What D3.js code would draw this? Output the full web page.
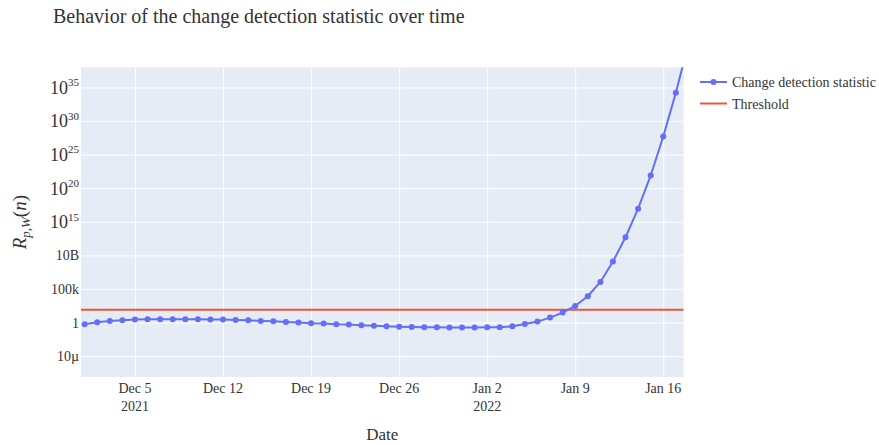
<!DOCTYPE html>
<html>
<head>
<meta charset="utf-8">
<script src="https://cdn.jsdelivr.net/npm/d3@7/dist/d3.min.js"></script>
<style>
  html, body { margin: 0; padding: 0; background: #fff; }
  svg { display: block; }
  text { font-family: "Liberation Serif", "Times New Roman", serif; fill: #333; }
</style>
</head>
<body>
<svg id="chart" width="879" height="445"></svg>
<script>
// ---------------- data ----------------
const dates = [
  "2021-12-01","2021-12-02","2021-12-03","2021-12-04","2021-12-05","2021-12-06","2021-12-07",
  "2021-12-08","2021-12-09","2021-12-10","2021-12-11","2021-12-12","2021-12-13","2021-12-14",
  "2021-12-15","2021-12-16","2021-12-17","2021-12-18","2021-12-19","2021-12-20","2021-12-21",
  "2021-12-22","2021-12-23","2021-12-24","2021-12-25","2021-12-26","2021-12-27","2021-12-28",
  "2021-12-29","2021-12-30","2021-12-31","2022-01-01","2022-01-02","2022-01-03","2022-01-04",
  "2022-01-05","2022-01-06","2022-01-07","2022-01-08","2022-01-09","2022-01-10","2022-01-11",
  "2022-01-12","2022-01-13","2022-01-14","2022-01-15","2022-01-16","2022-01-17","2022-01-18"
];
const statisticValues = [
  0.56, 1.12, 1.78, 2.19, 2.82, 3.09, 3.09,
  3.1, 3.1, 3.05, 3.0, 2.82, 2.5, 2.19,
  1.78, 1.58, 1.26, 1.0, 0.79, 0.71, 0.56,
  0.50, 0.40, 0.35, 0.28, 0.25, 0.22, 0.20,
  0.20, 0.18, 0.18, 0.18, 0.20, 0.20, 0.28,
  0.63, 1.41, 5.5, 31, 300, 8300, 1.1e6,
  1.2e9, 5e12, 9.1e16, 7.9e21, 5e27, 1.6e34, 3.2e41
];
const thresholdValue = 80;

const xTickDates = ["2021-12-05","2021-12-12","2021-12-19","2021-12-26","2022-01-02","2022-01-09","2022-01-16"];
const xTickLabels = [["Dec 5","2021"],["Dec 12"],["Dec 19"],["Dec 26"],["Jan 2","2022"],["Jan 9"],["Jan 16"]];
const yTickValues = [1e-5, 1, 1e5, 1e10, 1e15, 1e20, 1e25, 1e30, 1e35];
const yTickLabels = ["10µ", "1", "100k", "10B", "10^15", "10^20", "10^25", "10^30", "10^35"];
const xRange = ["2021-11-30T17:00:00Z", "2022-01-17T15:00:00Z"];
const yRange = [Math.pow(10, -8.1), 1e38];

const seriesNames = ["Change detection statistic", "Threshold"];
const colors = ["#636EFA", "#EF553B"];

// ---------------- layout ----------------
const svg = d3.select("#chart");
const M = { left: 81, right: 683.7, top: 67.3, bottom: 377 };
const parse = d3.utcParse("%Y-%m-%d");

const x = d3.scaleUtc()
  .domain(xRange.map(d => new Date(d)))
  .range([M.left, M.right]);
const y = d3.scaleLog()
  .domain(yRange)
  .range([M.bottom, M.top]);

// background
svg.append("rect")
  .attr("x", M.left).attr("y", M.top)
  .attr("width", M.right - M.left).attr("height", M.bottom - M.top)
  .attr("fill", "#E5ECF6");

svg.append("defs").append("clipPath").attr("id", "clip")
  .append("rect")
  .attr("x", M.left).attr("y", M.top)
  .attr("width", M.right - M.left).attr("height", M.bottom - M.top);

// grid lines
const xTicks = xTickDates.map(parse);
const xAxis = d3.axisBottom(x).tickValues(xTicks).tickSize(-(M.bottom - M.top)).tickFormat("");
svg.append("g").attr("transform", `translate(0,${M.bottom})`).call(xAxis)
  .call(g => g.select(".domain").remove())
  .call(g => g.selectAll("line").attr("stroke", "#fff").attr("stroke-width", 1));

const yAxis = d3.axisLeft(y).tickValues(yTickValues).tickSize(-(M.right - M.left)).tickFormat("");
svg.append("g").attr("transform", `translate(${M.left},0)`).call(yAxis)
  .call(g => g.select(".domain").remove())
  .call(g => g.selectAll("line").attr("stroke", "#fff").attr("stroke-width", 1));

// x tick labels
const xl = svg.append("g");
xTicks.forEach((d, i) => {
  const t = xl.append("text")
    .attr("x", x(d)).attr("y", 393)
    .attr("text-anchor", "middle")
    .style("font-size", "14px");
  xTickLabels[i].forEach((line, j) => {
    t.append("tspan").attr("x", x(d)).attr("dy", j === 0 ? 0 : 18).text(line);
  });
});

// y tick labels
const yl = svg.append("g");
yTickValues.forEach((v, i) => {
  const lab = yTickLabels[i];
  const yy = y(v);
  if (lab.startsWith("10^")) {
    const t = yl.append("text")
      .attr("x", 79).attr("y", yy + 6.3)
      .attr("text-anchor", "end");
    t.append("tspan").style("font-size", "18px").text("10");
    t.append("tspan").style("font-size", "11px").attr("dy", -7.5).text(lab.slice(3));
  } else {
    yl.append("text")
      .attr("x", 79).attr("y", yy + 5)
      .attr("text-anchor", "end")
      .style("font-size", "14px")
      .text(lab);
  }
});

// threshold line
const plot = svg.append("g").attr("clip-path", "url(#clip)");
plot.append("line")
  .attr("x1", M.left).attr("x2", M.right)
  .attr("y1", y(thresholdValue)).attr("y2", y(thresholdValue))
  .attr("stroke", colors[1]).attr("stroke-width", 2);

// statistic series
const pts = dates.map((d, i) => ({ date: parse(d), value: statisticValues[i] }));
const line = d3.line().x(d => x(d.date)).y(d => y(d.value));
plot.append("path").datum(pts)
  .attr("d", line)
  .attr("fill", "none")
  .attr("stroke", colors[0]).attr("stroke-width", 2);
plot.selectAll("circle.pt").data(pts).join("circle")
  .attr("class", "pt")
  .attr("cx", d => x(d.date)).attr("cy", d => y(d.value))
  .attr("r", 3)
  .attr("fill", colors[0]);

// title
svg.append("text")
  .attr("x", 53).attr("y", 23)
  .style("font-size", "20px")
  .text("Behavior of the change detection statistic over time");

// x axis title
svg.append("text")
  .attr("x", (M.left + M.right) / 2).attr("y", 440)
  .attr("text-anchor", "middle")
  .style("font-size", "17px")
  .text("Date");

// y axis title
const yt = svg.append("text")
  .attr("transform", `translate(26,${(M.top + M.bottom) / 2}) rotate(-90)`)
  .attr("text-anchor", "middle")
  .style("font-size", "19px")
  .style("font-style", "italic");
yt.append("tspan").text("R");
yt.append("tspan").style("font-size", "13px").attr("dy", 4).text("p,W");
yt.append("tspan").attr("dy", -4).style("font-style", "normal").text("(");
yt.append("tspan").text("n");
yt.append("tspan").style("font-style", "normal").text(")");

// legend
const lg = svg.append("g");
seriesNames.forEach((name, i) => {
  const ly = 82 + i * 21.5;
  lg.append("line")
    .attr("x1", 700).attr("x2", 727).attr("y1", ly).attr("y2", ly)
    .attr("stroke", colors[i]).attr("stroke-width", 2);
  if (i === 0) {
    lg.append("circle").attr("cx", 713.5).attr("cy", ly).attr("r", 3).attr("fill", colors[i]);
  }
  lg.append("text")
    .attr("x", 732).attr("y", ly + 5)
    .style("font-size", "14px")
    .text(name);
});
</script>
</body>
</html>
